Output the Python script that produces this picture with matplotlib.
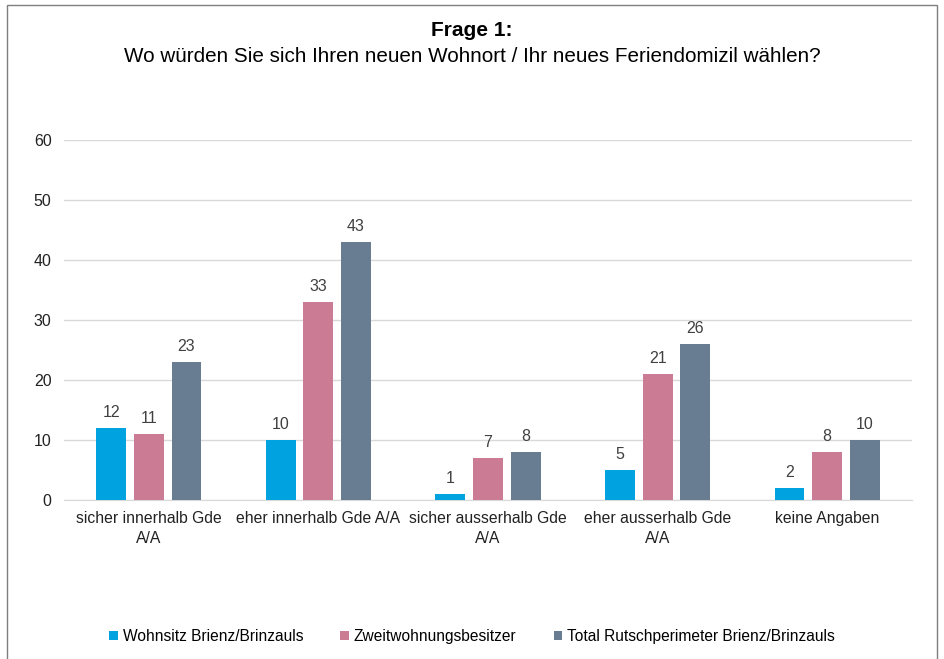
import numpy as np
import matplotlib.pyplot as plt
from matplotlib.patches import Rectangle

plt.rcParams['font.family'] = ['Liberation Sans', 'DejaVu Sans']

categories = ["sicher innerhalb Gde\nA/A", "eher innerhalb Gde A/A",
              "sicher ausserhalb Gde\nA/A", "eher ausserhalb Gde\nA/A", "keine Angaben"]
series_names = ["Wohnsitz Brienz/Brinzauls", "Zweitwohnungsbesitzer",
                "Total Rutschperimeter Brienz/Brinzauls"]
wohnsitz = [12, 10, 1, 5, 2]
zweitwohnung = [11, 33, 7, 21, 8]
total = [23, 43, 8, 26, 10]
colors = ["#00A3E0", "#CC7B94", "#687C92"]

fig = plt.figure(figsize=(9.44, 6.59), dpi=100)
fig.patches.append(Rectangle((0.007, -0.01), 0.986, 1.002, transform=fig.transFigure,
                             fill=False, edgecolor="#7f7f7f", linewidth=1.0))

ax = fig.add_axes([0.0678, 0.2413, 0.8983, 0.5463])
x = np.arange(len(categories))
w = 0.176
step = 0.222
for i, (vals, name) in enumerate(zip([wohnsitz, zweitwohnung, total], series_names)):
    bars = ax.bar(x + (i - 1) * step, vals, w, color=colors[i], label=name, zorder=3)
    ax.bar_label(bars, padding=6, fontsize=11.5, color="#404040")

ax.set_xlim(-0.5, len(categories) - 0.5)
ax.set_ylim(0, 60)
ax.set_yticks(range(0, 61, 10))
ax.yaxis.grid(True, color="#D9D9D9", linewidth=1, zorder=0)
ax.set_xticks(x)
ax.set_xticklabels(categories, fontsize=11.3, color="#222222", linespacing=1.4)
ax.tick_params(axis='y', labelsize=11.5, colors="#222222", length=0, pad=9)
ax.tick_params(axis='x', length=0, pad=8)
for s in ["top", "right", "left"]:
    ax.spines[s].set_visible(False)
ax.spines["bottom"].set_color("#D9D9D9")

fig.text(0.5, 0.953, "Frage 1:", ha="center", va="center", fontsize=15, fontweight="bold")
fig.text(0.5, 0.914, "Wo würden Sie sich Ihren neuen Wohnort / Ihr neues Feriendomizil wählen?",
         ha="center", va="center", fontsize=14.9)

fig.legend(loc="center", bbox_to_anchor=(0.5, 0.034), ncol=3, frameon=False, fontsize=11.2,
           handlelength=0.55, handleheight=0.55, handletextpad=0.3, columnspacing=2.4)

fig.savefig("out.png", dpi=100)
